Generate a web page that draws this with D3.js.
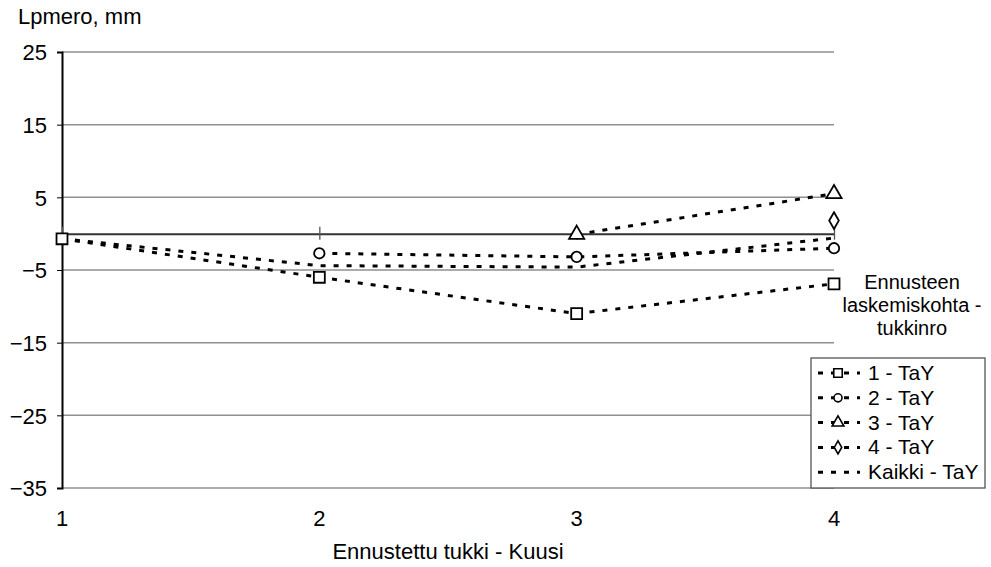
<!DOCTYPE html>
<html>
<head>
<meta charset="utf-8">
<script src="https://cdn.jsdelivr.net/npm/d3@7"></script>
<style>
body{margin:0;background:#fff;}
text{font-family:"Liberation Sans",Arial,sans-serif;fill:#000;}
</style>
</head>
<body>
<svg id="chart" width="991" height="567"></svg>
<script>
// data
var categories=[1,2,3,4];
var yTicks=[25,15,5,-5,-15,-25,-35];
var s1=[-0.7,-6.0,-11.0,-6.9];
var s2=[null,-2.7,-3.2,-2.0];
var s3=[null,null,-0.1,5.5];
var s4=[null,null,null,1.8];
var kaikki=[-0.7,-4.4,-4.6,-0.6];
var seriesNames=["1 - TaY","2 - TaY","3 - TaY","4 - TaY","Kaikki  - TaY"];
var legendTitle=["Ennusteen","laskemiskohta -","tukkinro"];

var svg=d3.select("#chart");
var fs="22px";

var x=d3.scaleLinear().domain([1,4]).range([62,834]);
var y=d3.scaleLinear().domain([-35,25]).range([488,52]);

// gridlines
svg.append("g").selectAll("line").data(yTicks).enter().append("line")
  .attr("x1",x(1)).attr("x2",x(4))
  .attr("y1",function(d){return y(d);}).attr("y2",function(d){return y(d);})
  .style("stroke","#8f8f8f").style("stroke-width",1.5);

// y axis
var yAxis=svg.append("g").attr("transform","translate("+x(1)+",0)")
  .call(d3.axisLeft(y).tickValues(yTicks).tickSize(5).tickFormat(d3.format("d")));
yAxis.select(".domain").style("stroke","#000").style("stroke-width",2);
yAxis.selectAll("text").attr("x",-15).attr("dy","0.35em")
  .style("font-size",fs).style("font-family","'Liberation Sans',Arial,sans-serif");

// x axis at zero
var xAxis=svg.append("g").attr("transform","translate(0,"+y(0)+")")
  .call(d3.axisBottom(x).tickValues(categories).tickSize(0).tickFormat(""));
xAxis.select(".domain").style("stroke","#333").style("stroke-width",2);
xAxis.selectAll(".tick").append("line").attr("y1",-7).attr("y2",6).style("stroke","#555").style("stroke-width",1.3);

// x labels at the bottom
svg.append("g").selectAll("text").data(categories).enter().append("text")
  .attr("x",function(d){return x(d);}).attr("y",526)
  .attr("text-anchor","middle").style("font-size",fs)
  .text(function(d){return d;});

svg.append("text").attr("x",448).attr("y",559).attr("text-anchor","middle")
  .style("font-size",fs).text("Ennustettu tukki - Kuusi");
svg.append("text").attr("x",18).attr("y",24).style("font-size",fs).text("Lpmero, mm");

// lines
var line=d3.line()
  .x(function(d){return x(d.c);}).y(function(d){return y(d.v);});

function pts(arr){
  return arr.map(function(v,i){return {c:categories[i],v:v};})
    .filter(function(d){return d.v!=null;});
}

var allSeries=[s1,s2,s3,s4,kaikki];
var shapes=[d3.symbolSquare,d3.symbolCircle,d3.symbolTriangle,d3.symbolDiamond,null];
var sizes=[120,85,100,80,0];

allSeries.forEach(function(s){
  svg.append("path").datum(pts(s))
    .attr("d",line).style("fill","none").style("stroke","#000")
    .style("stroke-width",3).style("stroke-dasharray","5,8");
});

allSeries.forEach(function(s,i){
  if(!shapes[i]) return;
  svg.append("g").selectAll("path").data(pts(s))
    .enter().append("path")
    .attr("transform",function(d){return "translate("+x(d.c)+","+y(d.v)+")";})
    .attr("d",d3.symbol().type(shapes[i]).size(sizes[i]))
    .style("fill","#fff").style("stroke","#000").style("stroke-width",1.8);
});

// legend title
svg.append("g").selectAll("text").data(legendTitle).enter().append("text")
  .attr("x",912).attr("y",function(d,i){return 289+i*23;})
  .attr("text-anchor","middle").style("font-size","20px").text(function(d){return d;});

// legend
var lg=svg.append("g");
lg.append("rect").attr("x",811).attr("y",358).attr("width",174).attr("height",130)
  .style("fill","#fff").style("stroke","#555").style("stroke-width",1.3);
seriesNames.forEach(function(n,i){
  var yy=373+i*24.8;
  lg.append("line").attr("x1",818).attr("x2",860).attr("y1",yy).attr("y2",yy)
    .style("stroke","#000").style("stroke-width",3).style("stroke-dasharray","5,8");
  if(shapes[i]){
    lg.append("path").attr("transform","translate(838,"+yy+")")
      .attr("d",d3.symbol().type(shapes[i]).size(sizes[i]*0.6))
      .style("fill","#fff").style("stroke","#000").style("stroke-width",1.6);
  }
  lg.append("text").attr("x",868).attr("y",yy+7).style("font-size","21px").text(n);
});
</script>
</body>
</html>
